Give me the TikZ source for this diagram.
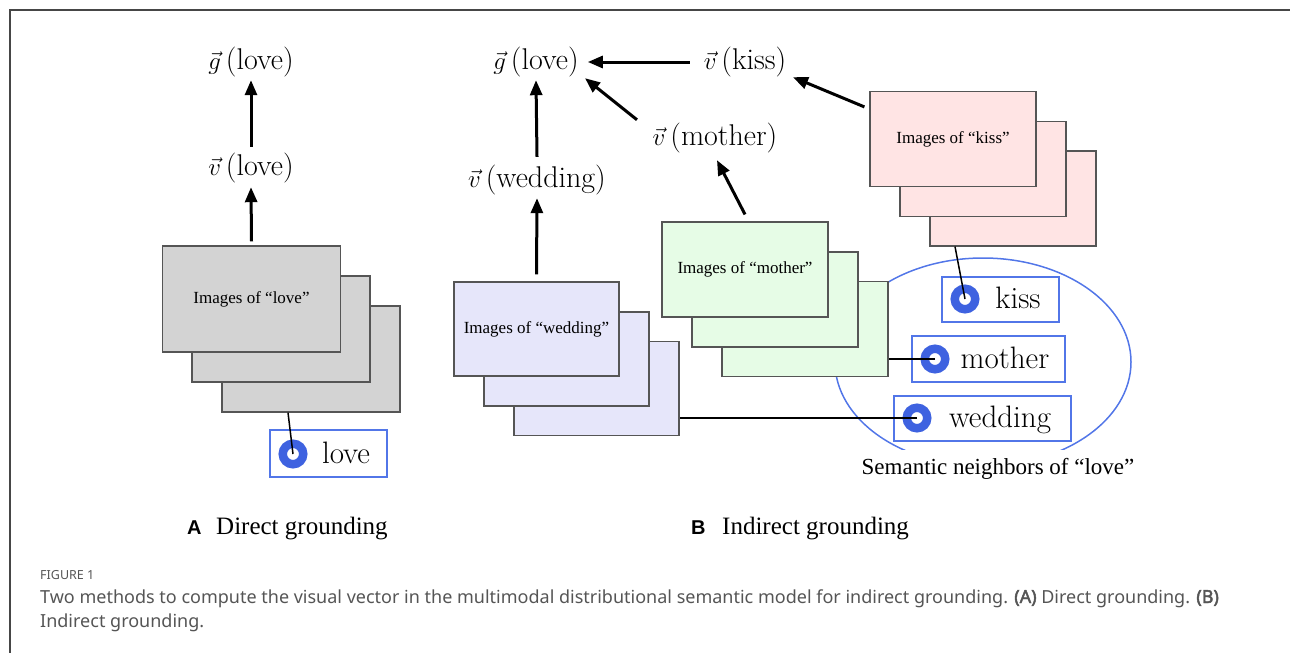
\documentclass[tikz,border=0pt]{standalone}
\usepackage{fontspec}
\newfontfamily\timesf{Liberation Serif}
\newfontfamily\arialf{Liberation Sans}
\newfontfamily\capf{Noto Sans}[AutoFakeBold=2.5]
\usetikzlibrary{arrows.meta,calc,shapes.geometric}
\definecolor{ringblue}{RGB}{62,98,224}
\definecolor{boxblue}{RGB}{82,118,232}
\definecolor{framegray}{RGB}{70,70,70}
\definecolor{edgegray}{RGB}{85,85,85}
\definecolor{capgray}{RGB}{85,85,85}
\definecolor{fillgray}{RGB}{211,211,211}
\definecolor{filllav}{RGB}{230,230,250}
\definecolor{fillgreen}{RGB}{230,252,230}
\definecolor{fillpink}{RGB}{255,228,228}
\begin{document}
\begin{tikzpicture}[x=1pt,y=-1pt,
  big/.style={font=\fontsize{30}{36}\selectfont, inner sep=0pt, text height=22pt, text depth=8pt},
  word/.style={font=\fontsize{31}{36}\selectfont, inner sep=0pt, anchor=base},
  imgbox/.style={draw=edgegray, line width=1.2pt, inner sep=0pt, font=\timesf\fontsize{17}{20}\selectfont},
  gstack/.style={imgbox, fill=fillgray, minimum width=178pt, minimum height=106pt},
  wstack/.style={imgbox, fill=filllav, minimum width=165pt, minimum height=94pt},
  mstack/.style={imgbox, fill=fillgreen, minimum width=166pt, minimum height=95pt},
  kstack/.style={imgbox, fill=fillpink, minimum width=166pt, minimum height=95pt},
  labbox/.style={draw=boxblue, line width=1.8pt, fill=white, inner sep=0pt},
  ring/.style={circle, draw=ringblue, line width=8.5pt, fill=white, minimum size=20.5pt, inner sep=0pt},
  arr/.style={line width=3pt, -{Triangle[length=15pt,width=12pt]}},
  conn/.style={line width=1.5pt, black},
  subcap/.style={font=\timesf\fontsize{25}{30}\selectfont, anchor=base west, inner sep=0pt},
  sublet/.style={font=\arialf\bfseries\fontsize{20}{24}\selectfont, anchor=base west, inner sep=0pt},
  captxt/.style={anchor=base west, inner sep=0pt, text=capgray, font=\capf\fontsize{18}{22}\selectfont}
]
\useasboundingbox (0,0) rectangle (1290,653);
% frame
\coordinate (fTL) at (10,10);
\coordinate (fTR) at (1290,10);
\coordinate (fBL) at (10,653);
\draw[framegray, line width=1.5pt] (fTR) -- (fTL) -- (fBL);

% ellipse of neighbours
\node[ellipse, draw=boxblue, line width=1.5pt, minimum width=296pt, minimum height=208pt, inner sep=0pt] (hood) at (983,362) {};
\node[font=\timesf\fontsize{23}{28}\selectfont, anchor=base, fill=white, inner xsep=3pt, inner ysep=8pt] (hoodlab) at (998,474) {Semantic neighbors of \char"201Clove\char"201D};

% ---------- A: direct grounding ----------
\node[gstack] (imgL3) at (311,359) {};
\node[gstack] (imgL2) at (281,329) {};
\node[gstack] (imgL1) at (251.5,299) {Images of \char"201Clove\char"201D};

\node[big] (vL) at (251,168) {$\vec{v}$\,(love)};
\node[big] (gL) at (251,62) {$\vec{g}$\,(love)};

\node[labbox, minimum width=117pt, minimum height=47pt] (boxL) at (328.5,453.5) {};
\node[ring] (ringL) at (293,454) {};
\node[word] (txtL) at (346,463) {love};
\draw[conn] (ringL.center) -- ($(imgL3.south)+(-23,0)$);

\draw[arr] ($(imgL1.north)+(0,-4)$) -- ($(vL.south)+(0,4)$);
\draw[arr] ($(vL.north)+(0,-6)$) -- ($(gL.south)+(0,3)$);

% ---------- B: indirect grounding ----------
\node[wstack] (imgW3) at (596.5,388.5) {};
\node[wstack] (imgW2) at (566.5,359) {};
\node[wstack] (imgW1) at (536.5,329) {Images of \char"201Cwedding\char"201D};

\node[mstack] (imgM3) at (805,329) {};
\node[mstack] (imgM2) at (775,299.5) {};
\node[mstack] (imgM1) at (745,269.5) {Images of \char"201Cmother\char"201D};

\node[kstack] (imgK3) at (1013,198.5) {};
\node[kstack] (imgK2) at (983,169) {};
\node[kstack] (imgK1) at (953,139) {Images of \char"201Ckiss\char"201D};

\node[big] (gR) at (536,62) {$\vec{g}$\,(love)};
\node[big] (vK) at (745,62) {$\vec{v}$\,(kiss)};
\node[big] (vM) at (715,138) {$\vec{v}$\,(mother)};
\node[big] (vW) at (537,180) {$\vec{v}$\,(wedding)};

\node[labbox, minimum width=117pt, minimum height=45pt] (boxK) at (1000.5,299.5) {};
\node[labbox, minimum width=153pt, minimum height=46pt] (boxM) at (988.5,359) {};
\node[labbox, minimum width=177pt, minimum height=45pt] (boxW) at (982.5,418.5) {};
\node[ring] (ringK) at (965,299) {};
\node[ring] (ringM) at (935,359) {};
\node[ring] (ringW) at (917,418) {};
\node[word] (txtK) at (1018,308) {kiss};
\node[word] (txtM) at (1005,368) {mother};
\node[word] (txtW) at (1000,427) {wedding};

\draw[conn] (ringK.center) -- ($(imgK3.south)+(-58,0)$);
\draw[conn] (ringM.center) -- (imgM3.east |- ringM.center);
\draw[conn] (ringW.center) -- (imgW3.east |- ringW.center);

\draw[arr] ($(imgW1.north)+(0,-7)$) -- ($(vW.south)+(0,3)$);
\draw[arr] ($(vW.north)+(0,-8)$) -- ($(gR.south)+(0,3)$);
\draw[arr] ($(vK.west)+(-14,0)$) -- ($(gR.east)+(9,0)$);
\draw[arr] ($(vM.north)+(-78,-3)$) -- ($(gR.south)+(49,1)$);
\draw[arr] ($(imgM1.north)+(0,-7)$) -- ($(vM.south)+(2,7)$);
\draw[arr] ($(imgK1.north west)+(-5,16)$) -- ($(vK.south)+(48,0)$);

% sub-captions
\node[sublet] (lA) at (187,534) {A};
\node[subcap] (cA) at (216,534) {Direct grounding};
\node[sublet] (lB) at (691,534) {B};
\node[subcap] (cB) at (722,534) {Indirect grounding};

% figure caption
\node[captxt, font=\capf\fontsize{12.5}{14}\selectfont] (figno) at (40,579) {FIGURE 1};
\node[captxt] (cap1) at (40,603) {Two methods to compute the visual vector in the multimodal distributional semantic model for indirect grounding. \textbf{(A)} Direct grounding. \textbf{(B)}};
\node[captxt] (cap2) at (40,627) {Indirect grounding.};
\end{tikzpicture}
\end{document}
